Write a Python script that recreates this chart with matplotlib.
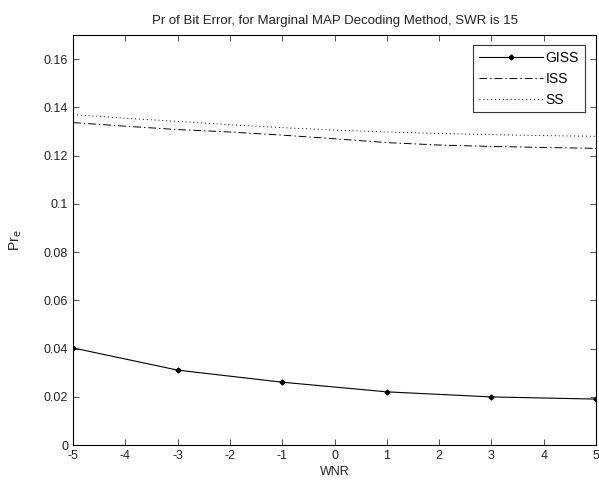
import matplotlib
matplotlib.use("Agg")
import matplotlib.pyplot as plt
import numpy as np

# data
wnr = [-5, -4, -3, -2, -1, 0, 1, 2, 3, 4, 5]
giss_x = [-5, -3, -1, 1, 3, 5]
giss = [0.0403, 0.0311, 0.0261, 0.0221, 0.0200, 0.0191]
iss = [0.1337, 0.1322, 0.1308, 0.1298, 0.1285, 0.1270, 0.1254, 0.1244, 0.1238, 0.1234, 0.1230]
ss = [0.1370, 0.1355, 0.1342, 0.1328, 0.1316, 0.1306, 0.1298, 0.1292, 0.1287, 0.1283, 0.1280]

xticks = list(range(-5, 6))
yticks = [0, 0.02, 0.04, 0.06, 0.08, 0.1, 0.12, 0.14, 0.16]
ytick_labels = ["0", "0.02", "0.04", "0.06", "0.08", "0.1", "0.12", "0.14", "0.16"]

plt.rcParams['font.family'] = ['Liberation Sans', 'DejaVu Sans']
plt.rcParams['font.size'] = 9

fig = plt.figure(figsize=(5.99, 4.86), dpi=100)
ax = fig.add_axes([0.122, 0.084, 0.873, 0.844])

ax.plot(giss_x, giss, color='black', linestyle='-', linewidth=0.8,
        marker='D', markersize=2.5, label='GISS')
ax.plot(wnr, iss, color='black', linestyle=(0, (8, 3, 1.5, 3)), linewidth=0.7, label='ISS')
ax.plot(wnr, ss, color='black', linestyle=(0, (1, 3)), linewidth=0.7, label='SS')

ax.set_xlim(-5, 5)
ax.set_ylim(0, 0.17)
ax.set_xticks(xticks)
ax.set_xticklabels([str(t) for t in xticks])
ax.set_yticks(yticks)
ax.set_yticklabels(ytick_labels)
ax.tick_params(direction='in', top=True, right=True, length=4, width=0.6,
               colors='#333333', labelcolor='#222222')
for s in ax.spines.values():
    s.set_linewidth(0.8)

ax.set_title("Pr of Bit Error, for Marginal MAP Decoding Method, SWR is 15",
             fontsize=9.5, color='#222222', pad=8)
ax.set_xlabel("WNR", color='#222222', labelpad=3)
ax.set_ylabel(r"Pr$_\mathrm{e}$", color='#222222', fontsize=10, labelpad=14)

leg = ax.legend(loc='upper right', bbox_to_anchor=(0.978, 0.975), frameon=True,
                fancybox=False, edgecolor='black', handlelength=4.6,
                borderaxespad=0, handletextpad=0.2, labelspacing=0.5, fontsize=10)
leg.get_frame().set_linewidth(0.8)

fig.savefig("out.png", dpi=100)
